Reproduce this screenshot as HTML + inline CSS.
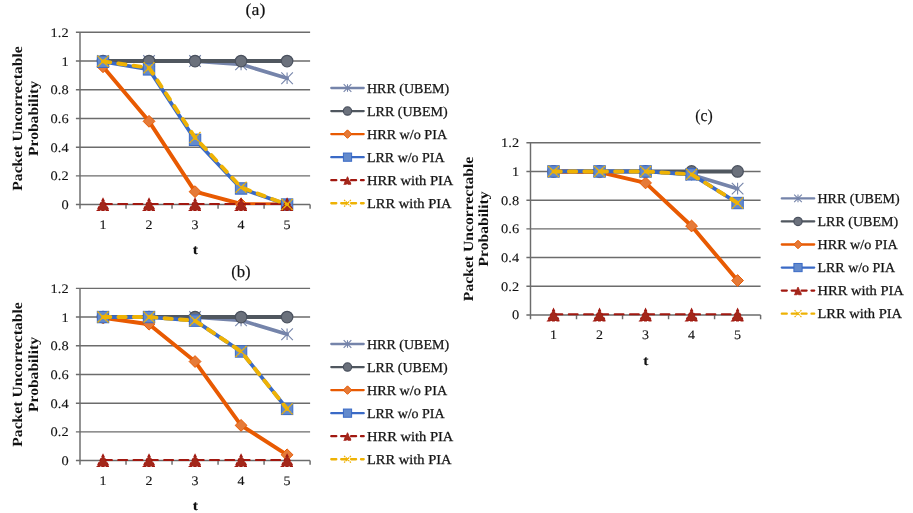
<!DOCTYPE html>
<html lang="en">
<head>
<meta charset="utf-8">
<title>Packet Uncorrectable Probability</title>
<style>
html,body{margin:0;padding:0;background:#fff;}
body{width:913px;height:513px;overflow:hidden;}
svg{display:block;}
svg text{font-family:"Liberation Serif","DejaVu Serif",serif;font-size:13.7px;fill:#111;stroke:#222;stroke-width:0.28px;text-rendering:geometricPrecision;}
svg text.b{font-weight:bold;font-size:14px;stroke-width:0;}
svg text.t{font-weight:bold;font-size:13.8px;stroke-width:0.1px;}
svg text.n{font-size:13px;stroke-width:0.12px;}
svg text.h{font-size:16.9px;stroke-width:0.2px;}
</style>
</head>
<body>
<svg width="913" height="513" viewBox="0 0 913 513">
<rect width="913" height="513" fill="#fff"/>
<g class="c">
<path d="M75.9 32.35H310.1M75.9 61.05H310.1M75.9 89.75H310.1M75.9 118.45H310.1M75.9 147.15H310.1M75.9 175.85H310.1M75.9 204.55H310.1M80 32.35V204.55M80 204.55V208.85M126.02 204.55V208.85M172.04 204.55V208.85M218.06 204.55V208.85M264.08 204.55V208.85M310.1 204.55V208.85" stroke="#6c6c6c" stroke-width="1.45" fill="none"/>
<clipPath id="clipa"><rect x="80" y="29.35" width="230.1" height="175.65"/></clipPath>
<polyline clip-path="url(#clipa)" points="103.01,61.05 149.03,61.05 195.05,61.05 241.07,64.35 287.09,78.27" fill="none" stroke="#7584aa" stroke-width="3.7" stroke-linejoin="round" stroke-linecap="round"/>
<path d="M97.21 55.25L108.81 66.85M97.21 66.85L108.81 55.25M103.01 55.25L103.01 66.85" stroke="#7584aa" stroke-width="1.1" fill="none"/>
<path d="M143.23 55.25L154.83 66.85M143.23 66.85L154.83 55.25M149.03 55.25L149.03 66.85" stroke="#7584aa" stroke-width="1.1" fill="none"/>
<path d="M189.25 55.25L200.85 66.85M189.25 66.85L200.85 55.25M195.05 55.25L195.05 66.85" stroke="#7584aa" stroke-width="1.1" fill="none"/>
<path d="M235.27 58.55L246.87 70.15M235.27 70.15L246.87 58.55M241.07 58.55L241.07 70.15" stroke="#7584aa" stroke-width="1.1" fill="none"/>
<path d="M281.29 72.47L292.89 84.07M281.29 84.07L292.89 72.47M287.09 72.47L287.09 84.07" stroke="#7584aa" stroke-width="1.1" fill="none"/>
<polyline clip-path="url(#clipa)" points="103.01,61.05 149.03,61.05 195.05,61.05 241.07,61.05 287.09,61.05" fill="none" stroke="#50575f" stroke-width="3.9" stroke-linejoin="round" stroke-linecap="round"/>
<circle cx="103.01" cy="61.05" r="5.75" fill="#6b717c" stroke="#4a515e" stroke-width="1.2"/>
<circle cx="149.03" cy="61.05" r="5.75" fill="#6b717c" stroke="#4a515e" stroke-width="1.2"/>
<circle cx="195.05" cy="61.05" r="5.75" fill="#6b717c" stroke="#4a515e" stroke-width="1.2"/>
<circle cx="241.07" cy="61.05" r="5.75" fill="#6b717c" stroke="#4a515e" stroke-width="1.2"/>
<circle cx="287.09" cy="61.05" r="5.75" fill="#6b717c" stroke="#4a515e" stroke-width="1.2"/>
<polyline clip-path="url(#clipa)" points="103.01,66.79 149.03,121.32 195.05,191.64 241.07,203.98 287.09,204.55" fill="none" stroke="#e85a02" stroke-width="3.9" stroke-linejoin="round" stroke-linecap="round"/>
<path d="M103.01 60.89L108.91 66.79L103.01 72.69L97.11 66.79Z" fill="#e57a38" stroke="#e85a02" stroke-width="1"/>
<path d="M149.03 115.42L154.93 121.32L149.03 127.22L143.13 121.32Z" fill="#e57a38" stroke="#e85a02" stroke-width="1"/>
<path d="M195.05 185.74L200.95 191.64L195.05 197.54L189.15 191.64Z" fill="#e57a38" stroke="#e85a02" stroke-width="1"/>
<path d="M241.07 198.08L246.97 203.98L241.07 209.88L235.17 203.98Z" fill="#e57a38" stroke="#e85a02" stroke-width="1"/>
<path d="M287.09 198.65L292.99 204.55L287.09 210.45L281.19 204.55Z" fill="#e57a38" stroke="#e85a02" stroke-width="1"/>
<polyline clip-path="url(#clipa)" points="103.01,61.77 149.03,69.37 195.05,139.83 241.07,188.48 287.09,204.55" fill="none" stroke="#3a6ac6" stroke-width="3.7" stroke-linejoin="round" stroke-linecap="round"/>
<rect x="97.31" y="56.07" width="11.4" height="11.4" fill="#638acc" stroke="#3a6ac6" stroke-width="1"/>
<rect x="143.33" y="63.67" width="11.4" height="11.4" fill="#638acc" stroke="#3a6ac6" stroke-width="1"/>
<rect x="189.35" y="134.13" width="11.4" height="11.4" fill="#638acc" stroke="#3a6ac6" stroke-width="1"/>
<rect x="235.37" y="182.78" width="11.4" height="11.4" fill="#638acc" stroke="#3a6ac6" stroke-width="1"/>
<rect x="281.39" y="198.85" width="11.4" height="11.4" fill="#638acc" stroke="#3a6ac6" stroke-width="1"/>
<polyline clip-path="url(#clipa)" points="103.01,203.98 149.03,203.98 195.05,203.98 241.07,203.98 287.09,203.98" fill="none" stroke="#a11810" stroke-width="2.2" stroke-linejoin="round" stroke-dasharray="8.8 6.5" stroke-linecap="round"/>
<path d="M103.01 198.48L109.01 210.48L97.01 210.48Z" fill="#a3271a" stroke="#a11810" stroke-width="1.2" stroke-dasharray="3 1.5"/>
<path d="M149.03 198.48L155.03 210.48L143.03 210.48Z" fill="#a3271a" stroke="#a11810" stroke-width="1.2" stroke-dasharray="3 1.5"/>
<path d="M195.05 198.48L201.05 210.48L189.05 210.48Z" fill="#a3271a" stroke="#a11810" stroke-width="1.2" stroke-dasharray="3 1.5"/>
<path d="M241.07 198.48L247.07 210.48L235.07 210.48Z" fill="#a3271a" stroke="#a11810" stroke-width="1.2" stroke-dasharray="3 1.5"/>
<path d="M287.09 198.48L293.09 210.48L281.09 210.48Z" fill="#a3271a" stroke="#a11810" stroke-width="1.2" stroke-dasharray="3 1.5"/>
<polyline clip-path="url(#clipa)" points="103.01,61.34 149.03,67.79 195.05,137.54 241.07,187.33 287.09,204.55" fill="none" stroke="#eeb205" stroke-width="3.9" stroke-linejoin="round" stroke-dasharray="7.3 8.1" stroke-linecap="round"/>
<path d="M97.51 55.84L108.51 66.84M97.51 66.84L108.51 55.84" stroke="#eeb205" stroke-width="1.35" fill="none" stroke-dasharray="2.18 0.47 10.27 0.47 2.18 0"/>
<path d="M143.53 62.29L154.53 73.29M143.53 73.29L154.53 62.29" stroke="#eeb205" stroke-width="1.35" fill="none" stroke-dasharray="2.18 0.47 10.27 0.47 2.18 0"/>
<path d="M189.55 132.04L200.55 143.04M189.55 143.04L200.55 132.04" stroke="#eeb205" stroke-width="1.35" fill="none" stroke-dasharray="2.18 0.47 10.27 0.47 2.18 0"/>
<path d="M235.57 181.83L246.57 192.83M235.57 192.83L246.57 181.83" stroke="#eeb205" stroke-width="1.35" fill="none" stroke-dasharray="2.18 0.47 10.27 0.47 2.18 0"/>
<path d="M281.59 199.05L292.59 210.05M281.59 210.05L292.59 199.05" stroke="#eeb205" stroke-width="1.35" fill="none" stroke-dasharray="2.18 0.47 10.27 0.47 2.18 0"/>
<text x="68.6" y="36.85" text-anchor="end" textLength="18" lengthAdjust="spacingAndGlyphs" class="n">1.2</text>
<text x="68.6" y="65.55" text-anchor="end" textLength="7.2" lengthAdjust="spacingAndGlyphs" class="n">1</text>
<text x="68.6" y="94.25" text-anchor="end" textLength="18" lengthAdjust="spacingAndGlyphs" class="n">0.8</text>
<text x="68.6" y="122.95" text-anchor="end" textLength="18" lengthAdjust="spacingAndGlyphs" class="n">0.6</text>
<text x="68.6" y="151.65" text-anchor="end" textLength="18" lengthAdjust="spacingAndGlyphs" class="n">0.4</text>
<text x="68.6" y="180.35" text-anchor="end" textLength="18" lengthAdjust="spacingAndGlyphs" class="n">0.2</text>
<text x="68.6" y="209.05" text-anchor="end" textLength="7.2" lengthAdjust="spacingAndGlyphs" class="n">0</text>
<text x="103.01" y="229" text-anchor="middle" textLength="7" lengthAdjust="spacingAndGlyphs" class="n">1</text>
<text x="149.03" y="229" text-anchor="middle" textLength="7" lengthAdjust="spacingAndGlyphs" class="n">2</text>
<text x="195.05" y="229" text-anchor="middle" textLength="7" lengthAdjust="spacingAndGlyphs" class="n">3</text>
<text x="241.07" y="229" text-anchor="middle" textLength="7" lengthAdjust="spacingAndGlyphs" class="n">4</text>
<text x="287.09" y="229" text-anchor="middle" textLength="7" lengthAdjust="spacingAndGlyphs" class="n">5</text>
<text x="195.3" y="254.3" text-anchor="middle" textLength="5.2" lengthAdjust="spacingAndGlyphs" class="t">t</text>
<text x="22.2" y="118.5" text-anchor="middle" textLength="144.5" lengthAdjust="spacingAndGlyphs" class="b" transform="rotate(-90 22.2 118.5)">Packet Uncorrectable</text>
<text x="38" y="118.5" text-anchor="middle" textLength="75" lengthAdjust="spacingAndGlyphs" class="b" transform="rotate(-90 38 118.5)">Probability</text>
<text x="255.5" y="15.3" text-anchor="middle" textLength="19.8" lengthAdjust="spacingAndGlyphs" class="h">(a)</text>
<path d="M331.3 88H363.7" stroke="#7584aa" stroke-width="2.3" fill="none" stroke-linecap="round"/>
<path d="M343.67 84.17L351.33 91.83M343.67 91.83L351.33 84.17M347.5 84.17L347.5 91.83" stroke="#7584aa" stroke-width="1.1" fill="none"/>
<text x="367" y="92.6" textLength="82.1" lengthAdjust="spacingAndGlyphs">HRR (UBEM)</text>
<path d="M331.3 111.05H363.7" stroke="#50575f" stroke-width="2.3" fill="none" stroke-linecap="round"/>
<circle cx="347.5" cy="111.05" r="4.14" fill="#6b717c" stroke="#4a515e" stroke-width="1.2"/>
<text x="367" y="115.65" textLength="80.6" lengthAdjust="spacingAndGlyphs">LRR (UBEM)</text>
<path d="M331.3 134.1H363.7" stroke="#e85a02" stroke-width="2.3" fill="none" stroke-linecap="round"/>
<path d="M347.5 129.85L351.75 134.1L347.5 138.35L343.25 134.1Z" fill="#e57a38" stroke="#e85a02" stroke-width="1"/>
<text x="367" y="138.7" textLength="80.1" lengthAdjust="spacingAndGlyphs">HRR w/o PIA</text>
<path d="M331.3 157.15H363.7" stroke="#3a6ac6" stroke-width="2.3" fill="none" stroke-linecap="round"/>
<rect x="343.4" y="153.05" width="8.21" height="8.21" fill="#638acc" stroke="#3a6ac6" stroke-width="1"/>
<text x="367" y="161.75" textLength="77.6" lengthAdjust="spacingAndGlyphs">LRR w/o PIA</text>
<path d="M331.3 180.2H363.7" stroke="#a11810" stroke-width="2.3" fill="none" stroke-dasharray="5 4.9" stroke-linecap="round"/>
<path d="M347.5 176.68L351.34 184.36L343.66 184.36Z" fill="#a3271a" stroke="#a11810" stroke-width="0.77" stroke-dasharray="3 1.5"/>
<text x="367" y="184.8" textLength="86.3" lengthAdjust="spacingAndGlyphs">HRR with PIA</text>
<path d="M331.3 203.25H363.7" stroke="#eeb205" stroke-width="2.3" fill="none" stroke-dasharray="5 4.9" stroke-linecap="round"/>
<path d="M344.09 199.84L350.91 206.66M344.09 206.66L350.91 199.84" stroke="#eeb205" stroke-width="1.2" fill="none" stroke-dasharray="1.6 0.8 4.84 0.8 1.6"/>
<text x="367" y="207.85" textLength="84.5" lengthAdjust="spacingAndGlyphs">LRR with PIA</text>
</g>
<g class="c">
<path d="M75.9 288.35H310.1M75.9 317.05H310.1M75.9 345.75H310.1M75.9 374.45H310.1M75.9 403.15H310.1M75.9 431.85H310.1M75.9 460.55H310.1M80 288.35V460.55M80 460.55V464.85M126.02 460.55V464.85M172.04 460.55V464.85M218.06 460.55V464.85M264.08 460.55V464.85M310.1 460.55V464.85" stroke="#6c6c6c" stroke-width="1.45" fill="none"/>
<clipPath id="clipb"><rect x="80" y="285.35" width="230.1" height="175.65"/></clipPath>
<polyline clip-path="url(#clipb)" points="103.01,317.05 149.03,317.05 195.05,317.05 241.07,320.35 287.09,334.27" fill="none" stroke="#7584aa" stroke-width="3.7" stroke-linejoin="round" stroke-linecap="round"/>
<path d="M97.21 311.25L108.81 322.85M97.21 322.85L108.81 311.25M103.01 311.25L103.01 322.85" stroke="#7584aa" stroke-width="1.1" fill="none"/>
<path d="M143.23 311.25L154.83 322.85M143.23 322.85L154.83 311.25M149.03 311.25L149.03 322.85" stroke="#7584aa" stroke-width="1.1" fill="none"/>
<path d="M189.25 311.25L200.85 322.85M189.25 322.85L200.85 311.25M195.05 311.25L195.05 322.85" stroke="#7584aa" stroke-width="1.1" fill="none"/>
<path d="M235.27 314.55L246.87 326.15M235.27 326.15L246.87 314.55M241.07 314.55L241.07 326.15" stroke="#7584aa" stroke-width="1.1" fill="none"/>
<path d="M281.29 328.47L292.89 340.07M281.29 340.07L292.89 328.47M287.09 328.47L287.09 340.07" stroke="#7584aa" stroke-width="1.1" fill="none"/>
<polyline clip-path="url(#clipb)" points="103.01,317.05 149.03,317.05 195.05,317.05 241.07,317.05 287.09,317.05" fill="none" stroke="#50575f" stroke-width="3.9" stroke-linejoin="round" stroke-linecap="round"/>
<circle cx="103.01" cy="317.05" r="5.75" fill="#6b717c" stroke="#4a515e" stroke-width="1.2"/>
<circle cx="149.03" cy="317.05" r="5.75" fill="#6b717c" stroke="#4a515e" stroke-width="1.2"/>
<circle cx="195.05" cy="317.05" r="5.75" fill="#6b717c" stroke="#4a515e" stroke-width="1.2"/>
<circle cx="241.07" cy="317.05" r="5.75" fill="#6b717c" stroke="#4a515e" stroke-width="1.2"/>
<circle cx="287.09" cy="317.05" r="5.75" fill="#6b717c" stroke="#4a515e" stroke-width="1.2"/>
<polyline clip-path="url(#clipb)" points="103.01,317.77 149.03,324.23 195.05,361.54 241.07,425.39 287.09,454.81" fill="none" stroke="#e85a02" stroke-width="3.9" stroke-linejoin="round" stroke-linecap="round"/>
<path d="M103.01 311.87L108.91 317.77L103.01 323.67L97.11 317.77Z" fill="#e57a38" stroke="#e85a02" stroke-width="1"/>
<path d="M149.03 318.33L154.93 324.23L149.03 330.12L143.13 324.23Z" fill="#e57a38" stroke="#e85a02" stroke-width="1"/>
<path d="M195.05 355.64L200.95 361.54L195.05 367.44L189.15 361.54Z" fill="#e57a38" stroke="#e85a02" stroke-width="1"/>
<path d="M241.07 419.49L246.97 425.39L241.07 431.29L235.17 425.39Z" fill="#e57a38" stroke="#e85a02" stroke-width="1"/>
<path d="M287.09 448.91L292.99 454.81L287.09 460.71L281.19 454.81Z" fill="#e57a38" stroke="#e85a02" stroke-width="1"/>
<polyline clip-path="url(#clipb)" points="103.01,317.05 149.03,317.05 195.05,320.64 241.07,351.49 287.09,408.89" fill="none" stroke="#3a6ac6" stroke-width="3.7" stroke-linejoin="round" stroke-linecap="round"/>
<rect x="97.31" y="311.35" width="11.4" height="11.4" fill="#638acc" stroke="#3a6ac6" stroke-width="1"/>
<rect x="143.33" y="311.35" width="11.4" height="11.4" fill="#638acc" stroke="#3a6ac6" stroke-width="1"/>
<rect x="189.35" y="314.94" width="11.4" height="11.4" fill="#638acc" stroke="#3a6ac6" stroke-width="1"/>
<rect x="235.37" y="345.79" width="11.4" height="11.4" fill="#638acc" stroke="#3a6ac6" stroke-width="1"/>
<rect x="281.39" y="403.19" width="11.4" height="11.4" fill="#638acc" stroke="#3a6ac6" stroke-width="1"/>
<polyline clip-path="url(#clipb)" points="103.01,459.98 149.03,459.98 195.05,459.98 241.07,459.98 287.09,459.98" fill="none" stroke="#a11810" stroke-width="2.2" stroke-linejoin="round" stroke-dasharray="8.8 6.5" stroke-linecap="round"/>
<path d="M103.01 454.48L109.01 466.48L97.01 466.48Z" fill="#a3271a" stroke="#a11810" stroke-width="1.2" stroke-dasharray="3 1.5"/>
<path d="M149.03 454.48L155.03 466.48L143.03 466.48Z" fill="#a3271a" stroke="#a11810" stroke-width="1.2" stroke-dasharray="3 1.5"/>
<path d="M195.05 454.48L201.05 466.48L189.05 466.48Z" fill="#a3271a" stroke="#a11810" stroke-width="1.2" stroke-dasharray="3 1.5"/>
<path d="M241.07 454.48L247.07 466.48L235.07 466.48Z" fill="#a3271a" stroke="#a11810" stroke-width="1.2" stroke-dasharray="3 1.5"/>
<path d="M287.09 454.48L293.09 466.48L281.09 466.48Z" fill="#a3271a" stroke="#a11810" stroke-width="1.2" stroke-dasharray="3 1.5"/>
<polyline clip-path="url(#clipb)" points="103.01,317.05 149.03,317.05 195.05,320.64 241.07,351.49 287.09,408.89" fill="none" stroke="#eeb205" stroke-width="3.9" stroke-linejoin="round" stroke-dasharray="7.3 8.1" stroke-linecap="round"/>
<path d="M97.51 311.55L108.51 322.55M97.51 322.55L108.51 311.55" stroke="#eeb205" stroke-width="1.35" fill="none" stroke-dasharray="2.18 0.47 10.27 0.47 2.18 0"/>
<path d="M143.53 311.55L154.53 322.55M143.53 322.55L154.53 311.55" stroke="#eeb205" stroke-width="1.35" fill="none" stroke-dasharray="2.18 0.47 10.27 0.47 2.18 0"/>
<path d="M189.55 315.14L200.55 326.14M189.55 326.14L200.55 315.14" stroke="#eeb205" stroke-width="1.35" fill="none" stroke-dasharray="2.18 0.47 10.27 0.47 2.18 0"/>
<path d="M235.57 345.99L246.57 356.99M235.57 356.99L246.57 345.99" stroke="#eeb205" stroke-width="1.35" fill="none" stroke-dasharray="2.18 0.47 10.27 0.47 2.18 0"/>
<path d="M281.59 403.39L292.59 414.39M281.59 414.39L292.59 403.39" stroke="#eeb205" stroke-width="1.35" fill="none" stroke-dasharray="2.18 0.47 10.27 0.47 2.18 0"/>
<text x="68.6" y="292.85" text-anchor="end" textLength="18" lengthAdjust="spacingAndGlyphs" class="n">1.2</text>
<text x="68.6" y="321.55" text-anchor="end" textLength="7.2" lengthAdjust="spacingAndGlyphs" class="n">1</text>
<text x="68.6" y="350.25" text-anchor="end" textLength="18" lengthAdjust="spacingAndGlyphs" class="n">0.8</text>
<text x="68.6" y="378.95" text-anchor="end" textLength="18" lengthAdjust="spacingAndGlyphs" class="n">0.6</text>
<text x="68.6" y="407.65" text-anchor="end" textLength="18" lengthAdjust="spacingAndGlyphs" class="n">0.4</text>
<text x="68.6" y="436.35" text-anchor="end" textLength="18" lengthAdjust="spacingAndGlyphs" class="n">0.2</text>
<text x="68.6" y="465.05" text-anchor="end" textLength="7.2" lengthAdjust="spacingAndGlyphs" class="n">0</text>
<text x="103.01" y="485" text-anchor="middle" textLength="7" lengthAdjust="spacingAndGlyphs" class="n">1</text>
<text x="149.03" y="485" text-anchor="middle" textLength="7" lengthAdjust="spacingAndGlyphs" class="n">2</text>
<text x="195.05" y="485" text-anchor="middle" textLength="7" lengthAdjust="spacingAndGlyphs" class="n">3</text>
<text x="241.07" y="485" text-anchor="middle" textLength="7" lengthAdjust="spacingAndGlyphs" class="n">4</text>
<text x="287.09" y="485" text-anchor="middle" textLength="7" lengthAdjust="spacingAndGlyphs" class="n">5</text>
<text x="195.3" y="510.3" text-anchor="middle" textLength="5.2" lengthAdjust="spacingAndGlyphs" class="t">t</text>
<text x="22.2" y="374.5" text-anchor="middle" textLength="144.5" lengthAdjust="spacingAndGlyphs" class="b" transform="rotate(-90 22.2 374.5)">Packet Uncorrectable</text>
<text x="38" y="374.5" text-anchor="middle" textLength="75" lengthAdjust="spacingAndGlyphs" class="b" transform="rotate(-90 38 374.5)">Probability</text>
<text x="240.9" y="277.1" text-anchor="middle" textLength="19.5" lengthAdjust="spacingAndGlyphs" class="h">(b)</text>
<path d="M331.3 344H363.7" stroke="#7584aa" stroke-width="2.3" fill="none" stroke-linecap="round"/>
<path d="M343.67 340.17L351.33 347.83M343.67 347.83L351.33 340.17M347.5 340.17L347.5 347.83" stroke="#7584aa" stroke-width="1.1" fill="none"/>
<text x="367" y="348.6" textLength="82.1" lengthAdjust="spacingAndGlyphs">HRR (UBEM)</text>
<path d="M331.3 367.05H363.7" stroke="#50575f" stroke-width="2.3" fill="none" stroke-linecap="round"/>
<circle cx="347.5" cy="367.05" r="4.14" fill="#6b717c" stroke="#4a515e" stroke-width="1.2"/>
<text x="367" y="371.65" textLength="80.6" lengthAdjust="spacingAndGlyphs">LRR (UBEM)</text>
<path d="M331.3 390.1H363.7" stroke="#e85a02" stroke-width="2.3" fill="none" stroke-linecap="round"/>
<path d="M347.5 385.85L351.75 390.1L347.5 394.35L343.25 390.1Z" fill="#e57a38" stroke="#e85a02" stroke-width="1"/>
<text x="367" y="394.7" textLength="80.1" lengthAdjust="spacingAndGlyphs">HRR w/o PIA</text>
<path d="M331.3 413.15H363.7" stroke="#3a6ac6" stroke-width="2.3" fill="none" stroke-linecap="round"/>
<rect x="343.4" y="409.05" width="8.21" height="8.21" fill="#638acc" stroke="#3a6ac6" stroke-width="1"/>
<text x="367" y="417.75" textLength="77.6" lengthAdjust="spacingAndGlyphs">LRR w/o PIA</text>
<path d="M331.3 436.2H363.7" stroke="#a11810" stroke-width="2.3" fill="none" stroke-dasharray="5 4.9" stroke-linecap="round"/>
<path d="M347.5 432.68L351.34 440.36L343.66 440.36Z" fill="#a3271a" stroke="#a11810" stroke-width="0.77" stroke-dasharray="3 1.5"/>
<text x="367" y="440.8" textLength="86.3" lengthAdjust="spacingAndGlyphs">HRR with PIA</text>
<path d="M331.3 459.25H363.7" stroke="#eeb205" stroke-width="2.3" fill="none" stroke-dasharray="5 4.9" stroke-linecap="round"/>
<path d="M344.09 455.84L350.91 462.66M344.09 462.66L350.91 455.84" stroke="#eeb205" stroke-width="1.2" fill="none" stroke-dasharray="1.6 0.8 4.84 0.8 1.6"/>
<text x="367" y="463.85" textLength="84.5" lengthAdjust="spacingAndGlyphs">LRR with PIA</text>
</g>
<g class="c">
<path d="M526.4 142.75H760.6M526.4 171.45H760.6M526.4 200.15H760.6M526.4 228.85H760.6M526.4 257.55H760.6M526.4 286.25H760.6M526.4 314.95H760.6M530.5 142.75V314.95M530.5 314.95V319.25M576.52 314.95V319.25M622.54 314.95V319.25M668.56 314.95V319.25M714.58 314.95V319.25M760.6 314.95V319.25" stroke="#6c6c6c" stroke-width="1.45" fill="none"/>
<clipPath id="clipc"><rect x="530.5" y="139.75" width="230.1" height="175.65"/></clipPath>
<polyline clip-path="url(#clipc)" points="553.51,171.45 599.53,171.45 645.55,171.45 691.57,174.75 737.59,188.67" fill="none" stroke="#7584aa" stroke-width="3.7" stroke-linejoin="round" stroke-linecap="round"/>
<path d="M547.71 165.65L559.31 177.25M547.71 177.25L559.31 165.65M553.51 165.65L553.51 177.25" stroke="#7584aa" stroke-width="1.1" fill="none"/>
<path d="M593.73 165.65L605.33 177.25M593.73 177.25L605.33 165.65M599.53 165.65L599.53 177.25" stroke="#7584aa" stroke-width="1.1" fill="none"/>
<path d="M639.75 165.65L651.35 177.25M639.75 177.25L651.35 165.65M645.55 165.65L645.55 177.25" stroke="#7584aa" stroke-width="1.1" fill="none"/>
<path d="M685.77 168.95L697.37 180.55M685.77 180.55L697.37 168.95M691.57 168.95L691.57 180.55" stroke="#7584aa" stroke-width="1.1" fill="none"/>
<path d="M731.79 182.87L743.39 194.47M731.79 194.47L743.39 182.87M737.59 182.87L737.59 194.47" stroke="#7584aa" stroke-width="1.1" fill="none"/>
<polyline clip-path="url(#clipc)" points="553.51,171.45 599.53,171.45 645.55,171.45 691.57,171.45 737.59,171.45" fill="none" stroke="#50575f" stroke-width="3.9" stroke-linejoin="round" stroke-linecap="round"/>
<circle cx="553.51" cy="171.45" r="5.75" fill="#6b717c" stroke="#4a515e" stroke-width="1.2"/>
<circle cx="599.53" cy="171.45" r="5.75" fill="#6b717c" stroke="#4a515e" stroke-width="1.2"/>
<circle cx="645.55" cy="171.45" r="5.75" fill="#6b717c" stroke="#4a515e" stroke-width="1.2"/>
<circle cx="691.57" cy="171.45" r="5.75" fill="#6b717c" stroke="#4a515e" stroke-width="1.2"/>
<circle cx="737.59" cy="171.45" r="5.75" fill="#6b717c" stroke="#4a515e" stroke-width="1.2"/>
<polyline clip-path="url(#clipc)" points="553.51,171.45 599.53,172.17 645.55,182.93 691.57,225.98 737.59,280.51" fill="none" stroke="#e85a02" stroke-width="3.9" stroke-linejoin="round" stroke-linecap="round"/>
<path d="M553.51 165.55L559.41 171.45L553.51 177.35L547.61 171.45Z" fill="#e57a38" stroke="#e85a02" stroke-width="1"/>
<path d="M599.53 166.27L605.43 172.17L599.53 178.07L593.63 172.17Z" fill="#e57a38" stroke="#e85a02" stroke-width="1"/>
<path d="M645.55 177.03L651.45 182.93L645.55 188.83L639.65 182.93Z" fill="#e57a38" stroke="#e85a02" stroke-width="1"/>
<path d="M691.57 220.08L697.47 225.98L691.57 231.88L685.67 225.98Z" fill="#e57a38" stroke="#e85a02" stroke-width="1"/>
<path d="M737.59 274.61L743.49 280.51L737.59 286.41L731.69 280.51Z" fill="#e57a38" stroke="#e85a02" stroke-width="1"/>
<polyline clip-path="url(#clipc)" points="553.51,171.45 599.53,171.45 645.55,171.45 691.57,174.32 737.59,203.02" fill="none" stroke="#3a6ac6" stroke-width="3.7" stroke-linejoin="round" stroke-linecap="round"/>
<rect x="547.81" y="165.75" width="11.4" height="11.4" fill="#638acc" stroke="#3a6ac6" stroke-width="1"/>
<rect x="593.83" y="165.75" width="11.4" height="11.4" fill="#638acc" stroke="#3a6ac6" stroke-width="1"/>
<rect x="639.85" y="165.75" width="11.4" height="11.4" fill="#638acc" stroke="#3a6ac6" stroke-width="1"/>
<rect x="685.87" y="168.62" width="11.4" height="11.4" fill="#638acc" stroke="#3a6ac6" stroke-width="1"/>
<rect x="731.89" y="197.32" width="11.4" height="11.4" fill="#638acc" stroke="#3a6ac6" stroke-width="1"/>
<polyline clip-path="url(#clipc)" points="553.51,314.38 599.53,314.38 645.55,314.38 691.57,314.38 737.59,314.38" fill="none" stroke="#a11810" stroke-width="2.2" stroke-linejoin="round" stroke-dasharray="8.8 6.5" stroke-linecap="round"/>
<path d="M553.51 308.88L559.51 320.88L547.51 320.88Z" fill="#a3271a" stroke="#a11810" stroke-width="1.2" stroke-dasharray="3 1.5"/>
<path d="M599.53 308.88L605.53 320.88L593.53 320.88Z" fill="#a3271a" stroke="#a11810" stroke-width="1.2" stroke-dasharray="3 1.5"/>
<path d="M645.55 308.88L651.55 320.88L639.55 320.88Z" fill="#a3271a" stroke="#a11810" stroke-width="1.2" stroke-dasharray="3 1.5"/>
<path d="M691.57 308.88L697.57 320.88L685.57 320.88Z" fill="#a3271a" stroke="#a11810" stroke-width="1.2" stroke-dasharray="3 1.5"/>
<path d="M737.59 308.88L743.59 320.88L731.59 320.88Z" fill="#a3271a" stroke="#a11810" stroke-width="1.2" stroke-dasharray="3 1.5"/>
<polyline clip-path="url(#clipc)" points="553.51,171.45 599.53,171.45 645.55,171.45 691.57,174.32 737.59,203.02" fill="none" stroke="#eeb205" stroke-width="3.9" stroke-linejoin="round" stroke-dasharray="7.3 8.1" stroke-linecap="round"/>
<path d="M548.01 165.95L559.01 176.95M548.01 176.95L559.01 165.95" stroke="#eeb205" stroke-width="1.35" fill="none" stroke-dasharray="2.18 0.47 10.27 0.47 2.18 0"/>
<path d="M594.03 165.95L605.03 176.95M594.03 176.95L605.03 165.95" stroke="#eeb205" stroke-width="1.35" fill="none" stroke-dasharray="2.18 0.47 10.27 0.47 2.18 0"/>
<path d="M640.05 165.95L651.05 176.95M640.05 176.95L651.05 165.95" stroke="#eeb205" stroke-width="1.35" fill="none" stroke-dasharray="2.18 0.47 10.27 0.47 2.18 0"/>
<path d="M686.07 168.82L697.07 179.82M686.07 179.82L697.07 168.82" stroke="#eeb205" stroke-width="1.35" fill="none" stroke-dasharray="2.18 0.47 10.27 0.47 2.18 0"/>
<path d="M732.09 197.52L743.09 208.52M732.09 208.52L743.09 197.52" stroke="#eeb205" stroke-width="1.35" fill="none" stroke-dasharray="2.18 0.47 10.27 0.47 2.18 0"/>
<text x="519.1" y="147.25" text-anchor="end" textLength="18" lengthAdjust="spacingAndGlyphs" class="n">1.2</text>
<text x="519.1" y="175.95" text-anchor="end" textLength="7.2" lengthAdjust="spacingAndGlyphs" class="n">1</text>
<text x="519.1" y="204.65" text-anchor="end" textLength="18" lengthAdjust="spacingAndGlyphs" class="n">0.8</text>
<text x="519.1" y="233.35" text-anchor="end" textLength="18" lengthAdjust="spacingAndGlyphs" class="n">0.6</text>
<text x="519.1" y="262.05" text-anchor="end" textLength="18" lengthAdjust="spacingAndGlyphs" class="n">0.4</text>
<text x="519.1" y="290.75" text-anchor="end" textLength="18" lengthAdjust="spacingAndGlyphs" class="n">0.2</text>
<text x="519.1" y="319.45" text-anchor="end" textLength="7.2" lengthAdjust="spacingAndGlyphs" class="n">0</text>
<text x="553.51" y="339.4" text-anchor="middle" textLength="7" lengthAdjust="spacingAndGlyphs" class="n">1</text>
<text x="599.53" y="339.4" text-anchor="middle" textLength="7" lengthAdjust="spacingAndGlyphs" class="n">2</text>
<text x="645.55" y="339.4" text-anchor="middle" textLength="7" lengthAdjust="spacingAndGlyphs" class="n">3</text>
<text x="691.57" y="339.4" text-anchor="middle" textLength="7" lengthAdjust="spacingAndGlyphs" class="n">4</text>
<text x="737.59" y="339.4" text-anchor="middle" textLength="7" lengthAdjust="spacingAndGlyphs" class="n">5</text>
<text x="645.8" y="364.7" text-anchor="middle" textLength="5.2" lengthAdjust="spacingAndGlyphs" class="t">t</text>
<text x="472.7" y="228.9" text-anchor="middle" textLength="144.5" lengthAdjust="spacingAndGlyphs" class="b" transform="rotate(-90 472.7 228.9)">Packet Uncorrectable</text>
<text x="488.5" y="228.9" text-anchor="middle" textLength="75" lengthAdjust="spacingAndGlyphs" class="b" transform="rotate(-90 488.5 228.9)">Probability</text>
<text x="704.1" y="120.9" text-anchor="middle" textLength="17.5" lengthAdjust="spacingAndGlyphs" class="h">(c)</text>
<path d="M781.8 198.4H814.2" stroke="#7584aa" stroke-width="2.3" fill="none" stroke-linecap="round"/>
<path d="M794.17 194.57L801.83 202.23M794.17 202.23L801.83 194.57M798 194.57L798 202.23" stroke="#7584aa" stroke-width="1.1" fill="none"/>
<text x="817.5" y="203" textLength="82.1" lengthAdjust="spacingAndGlyphs">HRR (UBEM)</text>
<path d="M781.8 221.45H814.2" stroke="#50575f" stroke-width="2.3" fill="none" stroke-linecap="round"/>
<circle cx="798" cy="221.45" r="4.14" fill="#6b717c" stroke="#4a515e" stroke-width="1.2"/>
<text x="817.5" y="226.05" textLength="80.6" lengthAdjust="spacingAndGlyphs">LRR (UBEM)</text>
<path d="M781.8 244.5H814.2" stroke="#e85a02" stroke-width="2.3" fill="none" stroke-linecap="round"/>
<path d="M798 240.25L802.25 244.5L798 248.75L793.75 244.5Z" fill="#e57a38" stroke="#e85a02" stroke-width="1"/>
<text x="817.5" y="249.1" textLength="80.1" lengthAdjust="spacingAndGlyphs">HRR w/o PIA</text>
<path d="M781.8 267.55H814.2" stroke="#3a6ac6" stroke-width="2.3" fill="none" stroke-linecap="round"/>
<rect x="793.9" y="263.45" width="8.21" height="8.21" fill="#638acc" stroke="#3a6ac6" stroke-width="1"/>
<text x="817.5" y="272.15" textLength="77.6" lengthAdjust="spacingAndGlyphs">LRR w/o PIA</text>
<path d="M781.8 290.6H814.2" stroke="#a11810" stroke-width="2.3" fill="none" stroke-dasharray="5 4.9" stroke-linecap="round"/>
<path d="M798 287.08L801.84 294.76L794.16 294.76Z" fill="#a3271a" stroke="#a11810" stroke-width="0.77" stroke-dasharray="3 1.5"/>
<text x="817.5" y="295.2" textLength="86.3" lengthAdjust="spacingAndGlyphs">HRR with PIA</text>
<path d="M781.8 313.65H814.2" stroke="#eeb205" stroke-width="2.3" fill="none" stroke-dasharray="5 4.9" stroke-linecap="round"/>
<path d="M794.59 310.24L801.41 317.06M794.59 317.06L801.41 310.24" stroke="#eeb205" stroke-width="1.2" fill="none" stroke-dasharray="1.6 0.8 4.84 0.8 1.6"/>
<text x="817.5" y="318.25" textLength="84.5" lengthAdjust="spacingAndGlyphs">LRR with PIA</text>
</g>
</svg>
</body>
</html>
